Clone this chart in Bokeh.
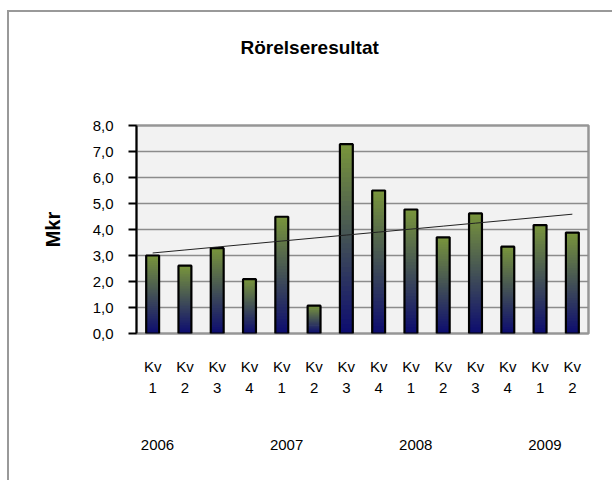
import numpy as np
from bokeh.plotting import figure
from bokeh.models import Range1d, FixedTicker, LinearAxis, Title
from bokeh.embed import file_html
from bokeh.resources import INLINE

title_text = "Rörelseresultat"
y_title = "Mkr"
quarter_prefix = "Kv"
quarters = ["1", "2", "3", "4", "1", "2", "3", "4", "1", "2", "3", "4", "1", "2"]
years = ["2006", "2007", "2008", "2009"]
values = [3.0, 2.61, 3.28, 2.09, 4.49, 1.07, 7.28, 5.50, 4.77, 3.70, 4.62, 3.34, 4.17, 3.88]
y_ticks = [0, 1, 2, 3, 4, 5, 6, 7, 8]
y_labels = ["0,0", "1,0", "2,0", "3,0", "4,0", "5,0", "6,0", "7,0", "8,0"]

FONT = "Liberation Sans"
x = np.arange(1, len(values) + 1)

p = figure(frame_width=452, frame_height=208,
           x_range=Range1d(0.5, len(values) + 0.5), y_range=Range1d(0, 8),
           output_backend="svg", toolbar_location=None,
           min_border_left=127, min_border_right=24, min_border_top=113, min_border_bottom=147,
           x_axis_location=None, y_axis_location=None)
p.styles = {"border-top": "2px solid #999999", "border-left": "2px solid #999999",
            "margin-top": "10px", "margin-left": "7px"}
p.background_fill_color = "#f2f2f2"
p.border_fill_color = "white"
p.outline_line_color = "#969696"
p.outline_line_width = 2.5

# left axis
yax = LinearAxis(ticker=FixedTicker(ticks=y_ticks),
                 major_label_overrides={t: l for t, l in zip(y_ticks, y_labels)})
yax.axis_line_color = "black"
yax.axis_line_width = 2
yax.major_tick_out = 8
yax.major_tick_in = 0
yax.major_tick_line_width = 2
yax.major_tick_line_color = "black"
yax.minor_tick_line_color = None
yax.major_label_standoff = 15
yax.major_label_text_font = FONT
yax.major_label_text_font_size = "15px"
yax.major_label_text_color = "black"
yax.axis_label = y_title
yax.axis_label_text_font = FONT
yax.axis_label_text_font_size = "20px"
yax.axis_label_text_font_style = "bold"
yax.axis_label_text_color = "black"
yax.axis_label_standoff = 26
p.add_layout(yax, "left")

p.ygrid.ticker = FixedTicker(ticks=y_ticks)
p.ygrid.grid_line_color = "#8c8c8c"
p.ygrid.grid_line_width = 1.3
p.xgrid.grid_line_color = None


def xaxis(ticks, labels, standoff, size):
    ax = LinearAxis(ticker=FixedTicker(ticks=list(ticks)),
                    major_label_overrides={float(t): l for t, l in zip(ticks, labels)})
    ax.axis_line_color = None
    ax.major_tick_line_color = None
    ax.minor_tick_line_color = None
    ax.major_tick_out = 0
    ax.major_tick_in = 0
    ax.major_label_standoff = standoff
    ax.major_label_text_font = FONT
    ax.major_label_text_font_size = size
    ax.major_label_text_color = "black"
    return ax

p.add_layout(xaxis(x, [quarter_prefix] * len(x), 24, "15px"), "below")
p.add_layout(xaxis(x, quarters, 5, "15px"), "below")
year_pos = [float(x[i * 4]) + 0.15 for i in range(len(years))]
p.add_layout(xaxis(year_pos, years, 44, "15px"), "below")

# gradient bars (navy at the base to olive at the top)
bottom_col = np.array([14, 14, 112])
top_col = np.array([120, 148, 60])
N = 40
w = 0.40
L, R, B, T, C = [], [], [], [], []
for xi, v in zip(x, values):
    for k in range(N):
        t = k / (N - 1)
        c = (bottom_col + (top_col - bottom_col) * t).astype(int)
        L.append(xi - w / 2); R.append(xi + w / 2)
        B.append(v * k / N); T.append(min(v, v * (k + 2) / N))
        C.append("#%02x%02x%02x" % tuple(c))
p.quad(left=L, right=R, bottom=B, top=T, fill_color=C, line_color=None)
p.quad(left=x - w / 2, right=x + w / 2, bottom=0, top=values,
       fill_color=None, line_color="black", line_width=2.2)

# linear trend line
coef = np.polyfit(x, values, 1)
p.line(x, np.polyval(coef, x), line_color="#222222", line_width=1)

# spacer between frame and title, then the title itself
p.add_layout(Title(text=" ", text_font_size="2px", standoff=44), "above")
p.add_layout(Title(text=title_text, text_font=FONT, text_font_size="19px",
                   text_font_style="bold", text_color="black",
                   align="left", offset=104, standoff=40), "above")

open("out.html", "w").write(file_html(p, INLINE))
